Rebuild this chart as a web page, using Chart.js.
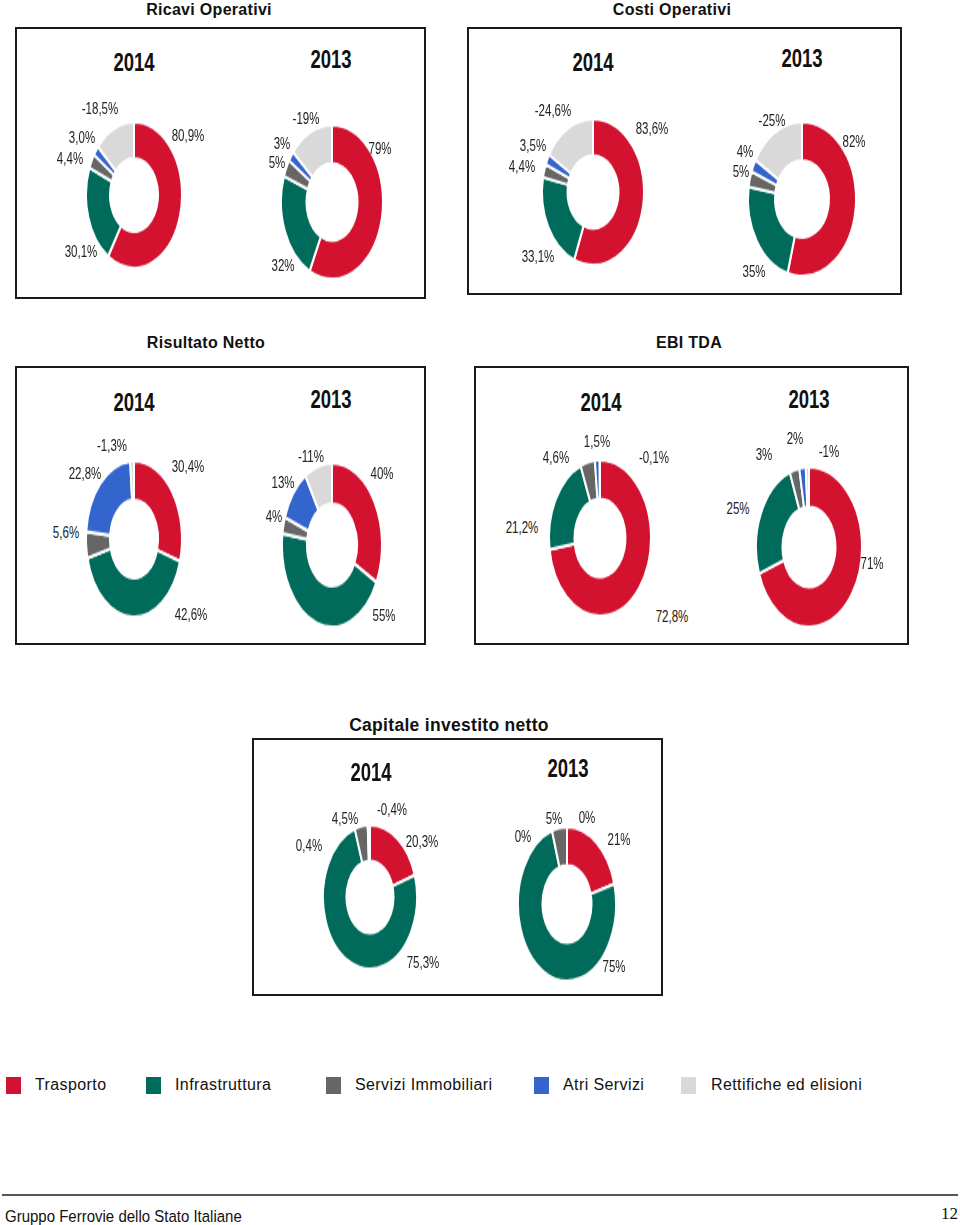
<!DOCTYPE html>
<html><head><meta charset="utf-8">
<script src="https://cdn.jsdelivr.net/npm/chart.js@4/dist/chart.umd.min.js"></script>
<style>
body{margin:0;width:960px;height:1225px;position:relative;background:#fff;font-family:"Liberation Sans",Arial,sans-serif;overflow:hidden;color:#111}
.box{position:absolute;border:2px solid #1a1a1a;box-sizing:border-box}
.title{position:absolute;font-weight:bold;font-size:16px;transform:translate(-50%,-50%);white-space:nowrap;letter-spacing:0.3px}
.year{position:absolute;font-family:"Liberation Sans",Arial,sans-serif;font-weight:bold;font-size:25px;transform:translate(-50%,-50%) scale(0.74,1);white-space:nowrap}
.lbl{position:absolute;font-family:"Liberation Sans",Arial,sans-serif;font-size:16px;transform:translate(-50%,-50%) scale(0.72,1);white-space:nowrap;color:#222}
.pie{position:absolute;transform-origin:50% 50%}
.leg{position:absolute;top:1077px;width:15px;height:17px}
.legt{position:absolute;top:1085px;font-size:16px;transform:translateY(-50%);white-space:nowrap;letter-spacing:0.4px}
</style></head>
<body>
<script>
// ---- DATA ----
const categories = ["Trasporto","Infrastruttura","Servizi Immobiliari","Atri Servizi","Rettifiche ed elisioni"];
const years = ["2014","2013"];
const ricavi2014 = [80.9, 30.1, 4.4, 3.0, -18.5];
const ricavi2013 = [79, 32, 5, 3, -19];
const costi2014 = [83.6, 33.1, 4.4, 3.5, -24.6];
const costi2013 = [82, 35, 5, 4, -25];
const risultato2014 = [30.4, 42.6, 5.6, 22.8, -1.3];
const risultato2013 = [40, 55, 4, 13, -11];
const ebitda2014 = [72.8, 21.2, 4.6, 1.5, -0.1];
const ebitda2013 = [71, 25, 3, 2, -1];
const capitale2014 = [20.3, 75.3, 4.5, 0.4, -0.4];
const capitale2013 = [21, 75, 5, 0, 0];
const panelTitles = ["Ricavi Operativi","Costi Operativi","Risultato Netto","EBI TDA","Capitale investito netto"];

// ---- STYLE / LAYOUT ----
const colors = ["#D2122E","#006B5B","#666666","#3465CC","#D9D9D9"];
const panels = [
  {title:[209,10], box:[15,27,426,299], fs:16},
  {title:[672,10], box:[467,27,902,295], fs:16},
  {title:[206,343], box:[15,366,426,645], fs:16},
  {title:[689,343], box:[474,366,909,645], fs:16},
  {title:[449,725], box:[252,738,663,996], fs:17.5}
];
const donuts = [
  {values:ricavi2014, dec:1, year:0, yp:[134,62], cx:134, cy:195, rx:48, ry:73,
   lp:[[188,136],[81,252],[70,159],[82,138],[100,109]]},
  {values:ricavi2013, dec:0, year:1, yp:[331,59], cx:332, cy:202, rx:51, ry:77,
   lp:[[380,149],[283,266],[277,163],[282,144],[306,119]]},
  {values:costi2014, dec:1, year:0, yp:[593,62], cx:593, cy:192, rx:51, ry:73,
   lp:[[652,129],[538,257],[522,167],[533,146],[553,111]]},
  {values:costi2013, dec:0, year:1, yp:[802,58], cx:802, cy:199, rx:54, ry:77,
   lp:[[854,142],[754,272],[741,172],[745,152],[772,121]]},
  {values:risultato2014, dec:1, year:0, yp:[134,402], cx:134, cy:539, rx:48, ry:78,
   lp:[[188,467],[191,615],[66,533],[85,474],[112,446]]},
  {values:risultato2013, dec:0, year:1, yp:[331,399], cx:332, cy:545, rx:50, ry:82,
   lp:[[382,474],[384,616],[274,517],[283,483],[311,457]]},
  {values:ebitda2014, dec:1, year:0, yp:[601,402], cx:600, cy:538, rx:51, ry:78,
   lp:[[672,617],[522,528],[556,458],[597,442],[654,458]]},
  {values:ebitda2013, dec:0, year:1, yp:[809,399], cx:809, cy:547, rx:53, ry:80,
   lp:[[872,564],[738,509],[764,455],[795,439],[829,452]]},
  {values:capitale2014, dec:1, year:0, yp:[371,772], cx:370, cy:897, rx:47, ry:72,
   lp:[[422,842],[423,963],[345,819],[309,846],[392,810]]},
  {values:capitale2013, dec:0, year:1, yp:[568,768], cx:567, cy:904, rx:49, ry:77,
   lp:[[619,840],[614,967],[554,819],[523,837],[587,818]]}
];
const legendX = [[6,35],[146,175],[326,355],[534,563],[681,711]];

function el(tag, cls, text){const e=document.createElement(tag); if(cls) e.className=cls; if(text!==undefined) e.textContent=text; document.body.appendChild(e); return e;}
function fmt(v,d){ let s=(Math.abs(v)<1e-9?0:v).toFixed(d).replace('.',','); return s+'%'; }

panels.forEach((p,i)=>{
  const b=el('div','box'); b.style.left=p.box[0]+'px'; b.style.top=p.box[1]+'px';
  b.style.width=(p.box[2]-p.box[0])+'px'; b.style.height=(p.box[3]-p.box[1])+'px';
  const t=el('div','title',panelTitles[i]); t.style.left=p.title[0]+'px'; t.style.top=p.title[1]+'px'; t.style.fontSize=p.fs+'px';
});

donuts.forEach(D=>{
  const S=Math.ceil(2*D.rx+8);
  const wrap=el('div','pie');
  wrap.style.left=(D.cx-S/2)+'px'; wrap.style.top=(D.cy-S/2)+'px';
  wrap.style.width=S+'px'; wrap.style.height=S+'px';
  wrap.style.transform='scaleY('+(D.ry/D.rx)+')';
  const cv=document.createElement('canvas'); cv.width=S; cv.height=S; cv.style.width=S+'px'; cv.style.height=S+'px';
  wrap.appendChild(cv);
  new Chart(cv,{type:'doughnut',
    data:{labels:categories,datasets:[{data:D.values.map(Math.abs),backgroundColor:colors,borderColor:'#ffffff',borderWidth:2}]},
    options:{responsive:false,animation:false,events:[],radius:D.rx,cutout:'50%',layout:{padding:0},
      plugins:{legend:{display:false},tooltip:{enabled:false}}}});
  const y=el('div','year',years[D.year]); y.style.left=D.yp[0]+'px'; y.style.top=D.yp[1]+'px';
  D.values.forEach((v,i)=>{const l=el('div','lbl',fmt(v,D.dec)); l.style.left=D.lp[i][0]+'px'; l.style.top=D.lp[i][1]+'px';});
});

categories.forEach((c,i)=>{
  const s=el('div','leg'); s.style.left=legendX[i][0]+'px'; s.style.background=colors[i];
  const t=el('div','legt',c); t.style.left=legendX[i][1]+'px';
});

const line=el('div'); line.style.cssText='position:absolute;left:2px;right:2px;top:1194px;height:2px;background:#555';
const f=el('div',null,'Gruppo Ferrovie dello Stato Italiane'); f.style.cssText='position:absolute;left:5px;top:1207px;font-size:15px;font-family:"Liberation Sans",sans-serif;transform:scaleY(1.05);transform-origin:0 0';
const pg=el('div',null,'12'); pg.style.cssText='position:absolute;left:941px;top:1204px;font-size:17px;font-family:"Liberation Serif","DejaVu Serif",serif';
</script>
</body></html>
